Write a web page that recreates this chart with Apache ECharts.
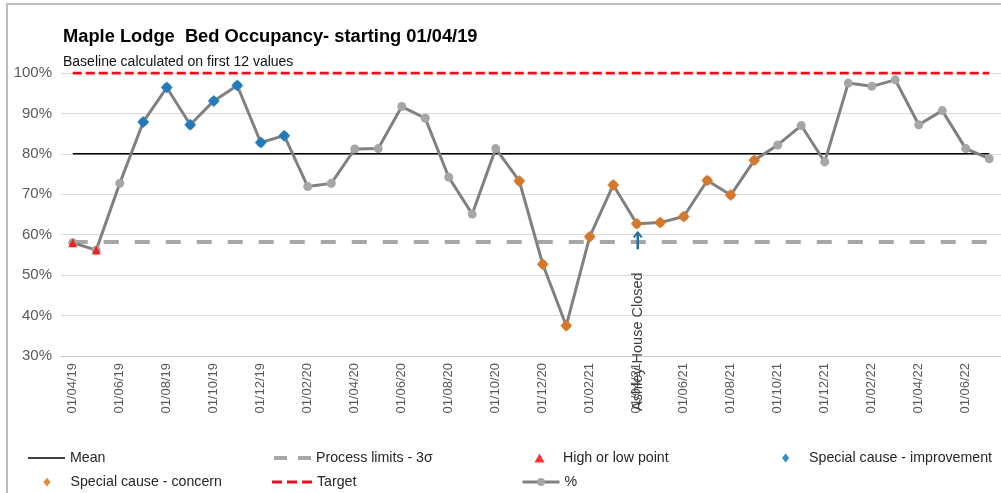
<!DOCTYPE html>
<html><head><meta charset="utf-8">
<script src="https://cdn.jsdelivr.net/npm/echarts@6/dist/echarts.min.js"></script>
<style>
html,body{margin:0;padding:0;background:#fff;overflow:hidden;width:1001px;height:493px;}
#frame{position:absolute;left:6px;top:3px;width:1100px;height:600px;border:2px solid #bdbdbd;}
#chart{position:absolute;left:0;top:0;width:1001px;height:493px;}
</style></head><body>
<div id="frame"></div>
<div id="chart"></div>
<script>
const categories = [
  '01/04/19','01/05/19','01/06/19','01/07/19','01/08/19','01/09/19','01/10/19','01/11/19','01/12/19',
  '01/01/20','01/02/20','01/03/20','01/04/20','01/05/20','01/06/20','01/07/20','01/08/20','01/09/20',
  '01/10/20','01/11/20','01/12/20','01/01/21','01/02/21','01/03/21','01/04/21','01/05/21','01/06/21',
  '01/07/21','01/08/21','01/09/21','01/10/21','01/11/21','01/12/21','01/01/22','01/02/22','01/03/22',
  '01/04/22','01/05/22','01/06/22','01/07/22'
];
const occupancy = [
  58.0, 56.2, 72.7, 87.9, 96.4, 87.2, 93.1, 96.9, 82.8, 84.5,
  71.9, 72.7, 81.2, 81.3, 91.7, 88.8, 74.2, 65.1, 81.3, 73.3,
  52.7, 37.5, 59.5, 72.3, 62.7, 63.0, 64.5, 73.4, 69.8, 78.4,
  82.2, 87.0, 78.0, 97.5, 96.7, 98.3, 87.2, 90.7, 81.3, 78.8
];
const highLowIdx = [0, 1];
const improvementIdx = [3, 4, 5, 6, 7, 8, 9];
const concernIdx = [19, 20, 21, 22, 23, 24, 25, 26, 27, 28, 29];
const meanValue = 80.0;
const lowerLimit = 58.2;
const targetValue = 100;
const yMin = 30, yMax = 100, yInterval = 10;
const annotationIdx = 24;
const annotationText = 'Ashley House Closed';
const arrowFrom = 56.4, arrowTo = 60.6;

const FONT = 'Liberation Sans, Arial, sans-serif';
const pick = idx => occupancy.map((v, i) => idx.includes(i) ? v : '-');
const constant = v => categories.map(() => v);

const chart = echarts.init(document.getElementById('chart'), null, {renderer: 'canvas'});

function legendAt(name, left, top, extra) {
  return Object.assign({
    data: [name], left: left, top: top, padding: 0, itemWidth: 37, itemHeight: 10,
    orient: 'horizontal', selectedMode: false,
    textStyle: {fontFamily: FONT, fontSize: 14.2, color: '#262626'},
    itemStyle: {borderWidth: 0}
  }, extra || {});
}

const option = {
  animation: false,
  title: {
    text: 'Maple Lodge  Bed Occupancy- starting 01/04/19',
    subtext: 'Baseline calculated on first 12 values',
    left: 63, top: 28, padding: 0, itemGap: 9,
    textStyle: {fontFamily: FONT, fontWeight: 'bold', fontSize: 18.3, color: '#000'},
    subtextStyle: {fontFamily: FONT, fontSize: 14, color: '#111'}
  },
  grid: {left: 61, right: 0, top: 73, bottom: 137, containLabel: false},
  legend: [
    legendAt('Mean', 28, 451, {data: [{name: 'Mean', icon: 'rect'}], itemHeight: 1.6}),
    legendAt('Process limits - 3σ', 274, 451, {data: [{name: 'Process limits - 3σ', icon: 'path://M0,0H13V4H0ZM24,0H37V4H24Z'}], itemHeight: 4}),
    legendAt('High or low point', 534.5, 451, {data: [{name: 'High or low point', icon: 'path://M5,0L10,9L0,9Z'}], itemHeight: 9}),
    legendAt('Special cause - improvement', 782, 451, {data: [{name: 'Special cause - improvement', icon: 'path://M4,0L8,5L4,10L0,5Z'}], itemHeight: 9}),
    legendAt('Special cause - concern', 43.4, 475, {data: [{name: 'Special cause - concern', icon: 'path://M4,0L8,5L4,10L0,5Z'}], itemHeight: 9}),
    legendAt('Target', 272, 475, {data: [{name: 'Target', icon: 'path://M0,0H10V3H0ZM15,0H25V3H15ZM30,0H40V3H30Z'}], itemWidth: 40, itemHeight: 3}),
    legendAt('%', 521, 475, {itemWidth: 37, itemHeight: 10, lineStyle: {width: 3}})
  ],
  xAxis: {
    type: 'category', data: categories, boundaryGap: true,
    axisLine: {lineStyle: {color: '#c8c8c8', width: 1}},
    axisTick: {show: false},
    axisLabel: {interval: 1, rotate: 90, margin: 7, fontFamily: FONT, fontSize: 13, color: '#595959'},
    splitLine: {show: false}
  },
  yAxis: {
    type: 'value', min: yMin, max: yMax, interval: yInterval,
    axisLine: {show: false}, axisTick: {show: false},
    axisLabel: {formatter: '{value}%', margin: 9, fontFamily: FONT, fontSize: 15, color: '#595959'},
    splitLine: {lineStyle: {color: '#d9d9d9', width: 1}}
  },
  series: [
    {name: 'Process limits - 3σ', type: 'line', data: constant(lowerLimit), symbol: 'none', silent: true, z: 1,
     color: '#a6a6a6', itemStyle: {color: '#a6a6a6'},
     lineStyle: {color: '#a6a6a6', width: 4, type: [15, 16]}},
    {name: 'Mean', type: 'line', data: constant(meanValue), symbol: 'none', silent: true, z: 1,
     color: '#000', itemStyle: {color: '#000'},
     lineStyle: {color: '#000', width: 1.5}},
    {name: 'Target', type: 'line', data: constant(targetValue), symbol: 'none', silent: true, z: 1,
     color: '#e8101a', itemStyle: {color: '#e8101a'},
     lineStyle: {color: '#e8101a', width: 3, type: [9, 4]}},
    {name: '%', type: 'line', data: occupancy, symbol: 'circle', symbolSize: 9, z: 3,
     color: '#a6a6a6', itemStyle: {color: '#a6a6a6'},
     lineStyle: {color: '#808080', width: 3}},
    {name: 'High or low point', type: 'scatter', data: pick(highLowIdx), symbol: 'triangle', symbolSize: [9, 9], z: 5,
     itemStyle: {color: '#ff0000'}},
    {name: 'Special cause - improvement', type: 'scatter', data: pick(improvementIdx), symbol: 'diamond', symbolSize: 12, z: 5,
     itemStyle: {color: '#0070c0'}},
    {name: 'Special cause - concern', type: 'scatter', data: pick(concernIdx), symbol: 'diamond', symbolSize: 12, z: 5,
     itemStyle: {color: '#e46c0a'}}
  ]
};
chart.setOption(option);

const tip = chart.convertToPixel({gridIndex: 0}, [annotationIdx, arrowTo]);
const tail = chart.convertToPixel({gridIndex: 0}, [annotationIdx, arrowFrom]);
const base = chart.convertToPixel({gridIndex: 0}, [annotationIdx, yMin]);
chart.setOption({
  graphic: [
    {type: 'line', z: 10, shape: {x1: tail[0] + 1, y1: tail[1], x2: tip[0] + 1, y2: tip[1] + 1},
     style: {stroke: '#1f6e9c', lineWidth: 2.5}},
    {type: 'polyline', z: 10, shape: {points: [[tip[0] - 3, tip[1] + 5], [tip[0] + 1, tip[1]], [tip[0] + 5, tip[1] + 5]]},
     style: {stroke: '#1f6e9c', lineWidth: 2, fill: null}},
    {type: 'text', z: 10, x: base[0] + 1.5, y: base[1] + 55, rotation: Math.PI / 2,
     style: {text: annotationText, fill: '#404040', font: '14.5px Liberation Sans, Arial, sans-serif', align: 'left', verticalAlign: 'middle'}}
  ]
});
</script>
</body></html>
